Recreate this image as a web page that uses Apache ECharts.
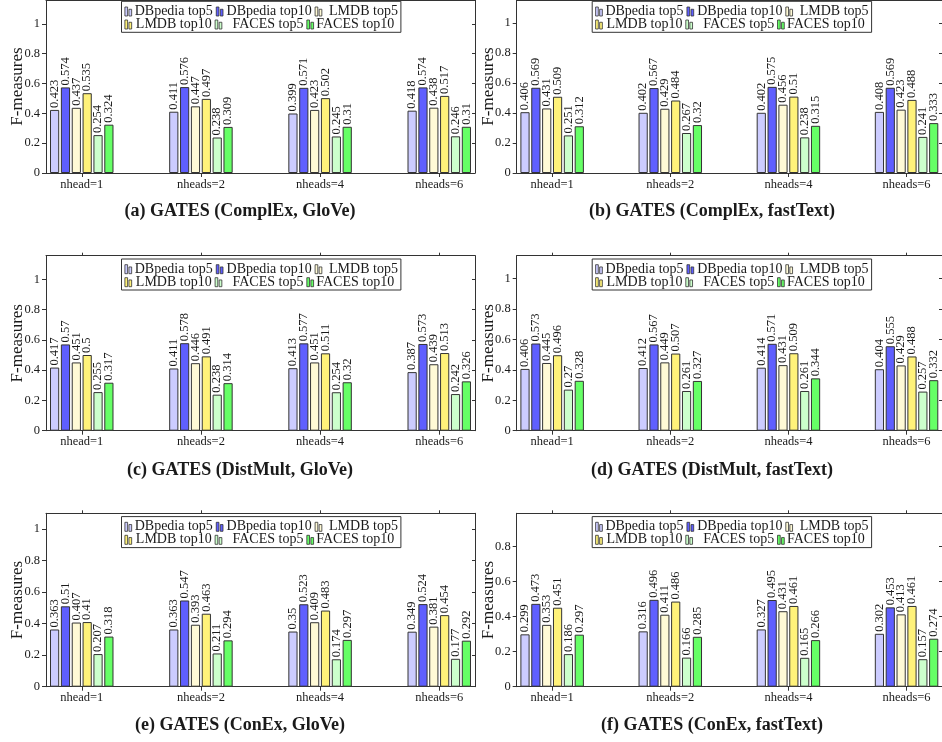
<!DOCTYPE html>
<html><head><meta charset="utf-8">
<script src="https://cdn.jsdelivr.net/npm/echarts@6/dist/echarts.min.js"></script>
<style>html,body{margin:0;padding:0;background:#fff}#c{width:942px;height:742px}</style>
</head><body><div id="c"></div>
<script>
// ---------- data ----------
const categories = ['nhead=1', 'nheads=2', 'nheads=4', 'nheads=6'];
const seriesNames = ['DBpedia top5', 'DBpedia top10', 'LMDB top5', 'LMDB top10', 'FACES top5', 'FACES top10'];
const yTicks = [0, 0.2, 0.4, 0.6, 0.8, 1];
const panelTitles = [
  '(a) GATES (ComplEx, GloVe)', '(b) GATES (ComplEx, fastText)',
  '(c) GATES (DistMult, GloVe)', '(d) GATES (DistMult, fastText)',
  '(e) GATES (ConEx, GloVe)', '(f) GATES (ConEx, fastText)'
];
const panelYMax = [1.16, 1.155, 1.156, 1.15, 1.10, 0.99];

// each row: one series (order of seriesNames), columns: categories
const complexGlove = [
  [0.423, 0.411, 0.399, 0.418],
  [0.574, 0.576, 0.571, 0.574],
  [0.437, 0.447, 0.423, 0.438],
  [0.535, 0.497, 0.502, 0.517],
  [0.254, 0.238, 0.245, 0.246],
  [0.324, 0.309, 0.31, 0.31]
];
const complexFasttext = [
  [0.406, 0.402, 0.402, 0.408],
  [0.569, 0.567, 0.575, 0.569],
  [0.431, 0.429, 0.456, 0.423],
  [0.509, 0.484, 0.51, 0.488],
  [0.251, 0.267, 0.238, 0.241],
  [0.312, 0.32, 0.315, 0.333]
];
const distmultGlove = [
  [0.417, 0.411, 0.413, 0.387],
  [0.57, 0.578, 0.577, 0.573],
  [0.451, 0.446, 0.451, 0.439],
  [0.5, 0.491, 0.511, 0.513],
  [0.255, 0.238, 0.254, 0.242],
  [0.317, 0.314, 0.32, 0.326]
];
const distmultFasttext = [
  [0.406, 0.412, 0.414, 0.404],
  [0.573, 0.567, 0.571, 0.555],
  [0.445, 0.449, 0.431, 0.429],
  [0.496, 0.507, 0.509, 0.488],
  [0.27, 0.261, 0.261, 0.257],
  [0.328, 0.327, 0.344, 0.332]
];
const conexGlove = [
  [0.363, 0.363, 0.35, 0.349],
  [0.51, 0.547, 0.523, 0.524],
  [0.407, 0.393, 0.409, 0.381],
  [0.41, 0.463, 0.483, 0.454],
  [0.207, 0.211, 0.174, 0.177],
  [0.318, 0.294, 0.297, 0.292]
];
const conexFasttext = [
  [0.299, 0.316, 0.327, 0.302],
  [0.473, 0.496, 0.495, 0.453],
  [0.353, 0.411, 0.431, 0.413],
  [0.451, 0.486, 0.461, 0.461],
  [0.186, 0.166, 0.165, 0.157],
  [0.297, 0.285, 0.266, 0.274]
];
const panelData = [complexGlove, complexFasttext, distmultGlove, distmultFasttext, conexGlove, conexFasttext];

// ---------- style / layout ----------
const colors = ['#ccccff', '#5f5fff', '#fffad6', '#fff27a', '#ccffcc', '#66ff66'];
const FONT = "'Liberation Serif', 'Times New Roman', serif";
const TXT = '#1a1a1a';
const AX = '#333';
const colLeft = [46, 516.7];
const rowTop = [-2, 255.7, 513.3];
const rowHeight = [175, 175, 173.4];
const plotWidth = 429;
const titleTop = [202, 461, 716];
const titleX = [240, 712];
const xIdx = categories.map((c, i) => i);

const grid = [], xAxis = [], yAxis = [], series = [], legend = [], title = [];

panelData.forEach((pd, p) => {
  const col = p % 2, row = Math.floor(p / 2);
  const left = colLeft[col], top = rowTop[row], h = rowHeight[row];
  grid.push({left: left, top: top, width: plotWidth, height: h, containLabel: false});
  const ymax = panelYMax[p];
  const yt = yTicks.filter(v => v <= ymax + 1e-9);
  xAxis.push({
    type: 'value', gridIndex: p, min: -0.3, max: 3.3, position: 'bottom',
    splitLine: {show: false},
    axisLine: {show: true, onZero: false, lineStyle: {color: AX, width: 1}},
    axisTick: {show: true, customValues: xIdx, length: 4, lineStyle: {color: AX}},
    axisLabel: {customValues: xIdx, formatter: v => categories[Math.round(v)], fontFamily: FONT, fontSize: 12.5, color: TXT, margin: 5}
  });
  xAxis.push({
    type: 'value', gridIndex: p, min: -0.3, max: 3.3, position: 'top',
    splitLine: {show: false},
    axisLine: {show: true, onZero: false, lineStyle: {color: AX, width: 1}},
    axisTick: {show: true, customValues: xIdx, length: 3, lineStyle: {color: AX}},
    axisLabel: {show: false}
  });
  yAxis.push({
    type: 'value', gridIndex: p, min: 0, max: ymax, position: 'left',
    name: 'F-measures', nameLocation: 'middle', nameGap: 20, nameMoveOverlap: false,
    nameTextStyle: {fontFamily: FONT, fontSize: 17, color: TXT},
    splitLine: {show: false},
    axisLine: {show: true, onZero: false, lineStyle: {color: AX, width: 1}},
    axisTick: {show: true, customValues: yt, length: 4, lineStyle: {color: AX}},
    axisLabel: {customValues: yt, fontFamily: FONT, fontSize: 12.5, color: TXT, margin: 6}
  });
  yAxis.push({
    type: 'value', gridIndex: p, min: 0, max: ymax, position: 'right',
    splitLine: {show: false},
    axisLine: {show: true, onZero: false, lineStyle: {color: AX, width: 1}},
    axisTick: {show: true, inside: true, customValues: yt, length: 3, lineStyle: {color: AX}},
    axisLabel: {show: false}
  });
  seriesNames.forEach((name, s) => {
    series.push({
      type: 'bar', name: name, xAxisIndex: 2 * p, yAxisIndex: 2 * p,
      data: pd[s].map((v, i) => [xIdx[i], v]),
      barWidth: 9.2, barGap: '18%',
      itemStyle: {color: colors[s], borderColor: AX, borderWidth: 1},
      label: {
        show: true, position: 'top', rotate: 90, align: 'left', verticalAlign: 'middle',
        distance: 2, fontFamily: FONT, fontSize: 12.5, color: TXT
      },
      emphasis: {disabled: true},
      animation: false
    });
  });
  const tok = w => ({width: w, align: 'center', fontFamily: FONT, fontSize: 14, color: TXT});
  const legendBase = {
    left: left + 75.5,
    width: 400, itemGap: 3,
    itemWidth: 8, itemHeight: 9,
    icon: 'path://M0,0h3v10h-3zM4.5,2.5h3v7.5h-3z',
    itemStyle: {borderColor: AX, borderWidth: 0.8},
    selectedMode: false,
    formatter: n => '{c' + (seriesNames.indexOf(n) % 3) + '|' + n + '}',
    textStyle: {fontFamily: FONT, fontSize: 14, color: TXT, rich: {c0: tok(73), c1: tok(81), c2: tok(72)}}
  };
  // first legend row carries the frame, which also encloses the second row
  legend.push(Object.assign({}, legendBase, {
    top: top + 3.3, padding: [3.2, 3, 13.8, 3],
    borderColor: AX, borderWidth: 1, backgroundColor: '#fff',
    data: seriesNames.slice(0, 3)
  }));
  legend.push(Object.assign({}, legendBase, {
    top: top + 3.3 + 16.2, padding: [0, 3, 0, 3],
    data: seriesNames.slice(3, 6)
  }));
  title.push({
    text: panelTitles[p], left: titleX[col], top: titleTop[row], textAlign: 'center', padding: 0,
    textStyle: {fontFamily: FONT, fontSize: 18, fontWeight: 'bold', color: TXT}
  });
});

const chart = echarts.init(document.getElementById('c'), null, {renderer: 'canvas'});
chart.setOption({
  animation: false,
  backgroundColor: '#fff',
  title: title, grid: grid, xAxis: xAxis, yAxis: yAxis, legend: legend, series: series
});
</script>
</body></html>
